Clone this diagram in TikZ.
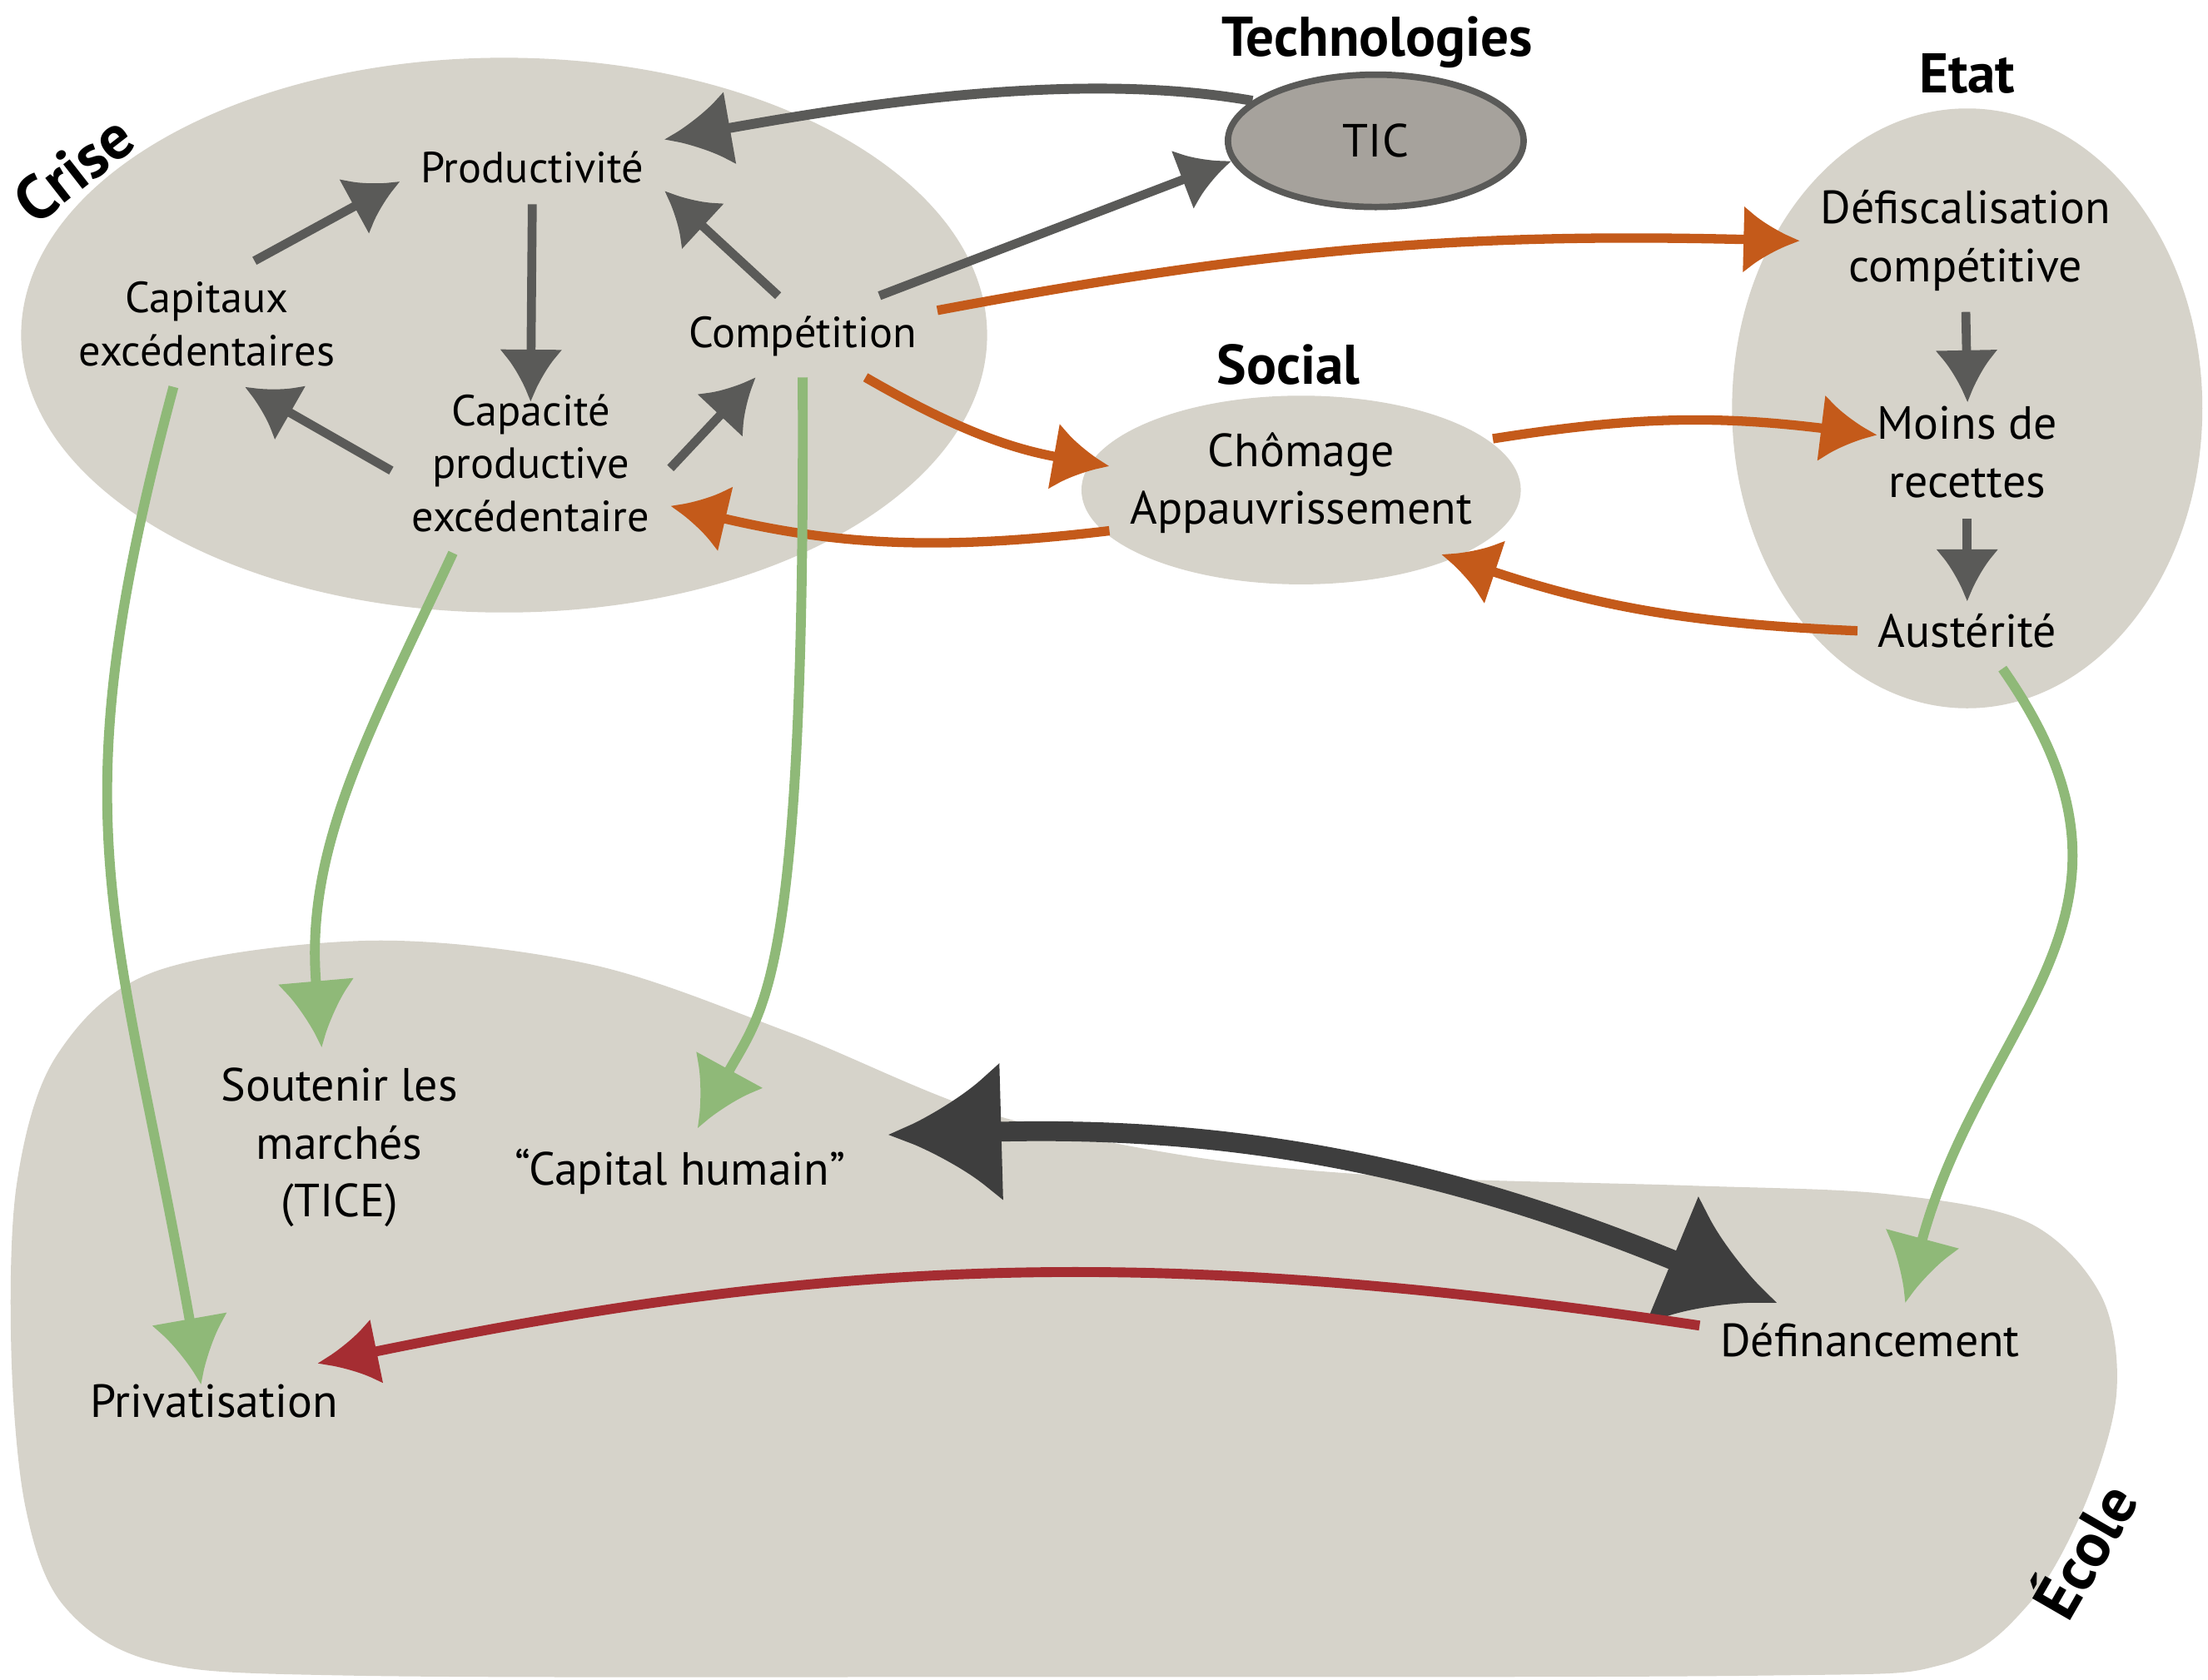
\documentclass[tikz,border=0pt]{standalone}
\usepackage{fontspec}
\setmainfont{PT Sans}
\usetikzlibrary{arrows.meta,shapes.geometric}

\definecolor{zone}{RGB}{214,211,202}
\definecolor{ticfill}{RGB}{166,162,156}
\definecolor{chalkgray}{RGB}{90,90,88}
\definecolor{chalkorange}{RGB}{196,90,26}
\definecolor{chalkgreen}{RGB}{143,185,120}
\definecolor{chalkdark}{RGB}{62,62,62}
\definecolor{chalkred}{RGB}{165,45,50}

\tikzset{
  lbl/.style={align=center,inner sep=4pt,font=\fontsize{8.8}{10.7}\selectfont},
  lblbig/.style={align=center,inner sep=4pt,font=\fontsize{9.4}{11.7}\selectfont},
  zonetitle/.style={font=\bfseries\fontsize{11.3}{13}\selectfont},
  grayarr/.style={line width=1.8pt,chalkgray,-{Latex[length=3.7mm,width=4.5mm]}},
  orangearr/.style={line width=1.9pt,chalkorange,-{Latex[length=4mm,width=4.8mm]}},
  greenarr/.style={line width=2pt,chalkgreen,-{Latex[length=4.7mm,width=5.5mm]}},
  darkarr/.style={line width=4pt,chalkdark,{Latex[length=8mm,width=10mm]}-{Latex[length=8mm,width=10mm]}},
  redarr/.style={line width=2pt,chalkred,-{Latex[length=4.3mm,width=4.7mm]}}
}

\begin{document}
\begin{tikzpicture}[x=0.1mm,y=0.1mm]
  \useasboundingbox (0,0) rectangle (1568,-1193);

  % zones
  \fill[zone] plot[smooth cycle,tension=0.55] coordinates {
    (264,-668) (420,-685) (560,-733) (700,-790) (850,-822) (1000,-836)
    (1200,-842) (1340,-848) (1440,-868) (1492,-920) (1503,-990) (1480,-1070)
    (1440,-1140) (1380,-1182) (1250,-1190) (700,-1191) (250,-1190) (110,-1180)
    (45,-1140) (18,-1070) (8,-960) (12,-840) (40,-750) (110,-690)};
  \fill[zone] (358,-238) ellipse [x radius=343,y radius=197];
  \fill[zone] (1397,-290) ellipse [x radius=167,y radius=213];
  \fill[zone] (924,-348) ellipse [x radius=156,y radius=67];

  % titles
  \node[zonetitle] (techT) at (978,-30) {Technologies};
  \node[zonetitle] (etatT) at (1397,-52) {Etat};
  \node[zonetitle] (socT) at (915,-259) {Social};
  \node[zonetitle,font=\bfseries\fontsize{12.6}{14}\selectfont,rotate=38] (criseT) at (52,-120) {Crise};
  \node[zonetitle,font=\bfseries\fontsize{12.6}{14}\selectfont,rotate=60] (ecoleT) at (1478,-1100) {École};

  % crise
  \node[lbl] (prod) at (378,-119) {Productivité};
  \node[lbl] (capit) at (147,-230) {Capitaux\\excédentaires};
  \node[lbl] (comp) at (570,-239) {Compétition};
  \node[lbl] (capa) at (377,-329) {Capacité\\productive\\excédentaire};

  % technologies, social, etat
  \node[lblbig,ellipse,fill=ticfill,draw=chalkgray,line width=1.3pt,
        minimum width=21mm,minimum height=9.4mm] (tic) at (977,-100) {TIC};
  \node[lblbig] (chom) at (924,-343) {Chômage\\Appauvrissement};
  \node[lblbig] (defisc) at (1396,-171) {Défiscalisation\\compétitive};
  \node[lblbig] (moins) at (1397,-321) {Moins de\\recettes};
  \node[lblbig] (aust) at (1397,-448) {Austérité};

  % ecole
  \node[lblbig] (sout) at (241,-815) {Soutenir les\\marchés\\(TICE)};
  \node[lblbig] (capH) at (483,-832) {“Capital humain”};
  \node[lblbig] (defin) at (1328,-952) {Définancement};
  \node[lblbig] (priv) at (152,-995) {Privatisation};

  % gray arrows
  \draw[grayarr] (capit.53) -- (prod.186);
  \draw[grayarr,shorten >=-2mm] (prod.south) -- (capa.north);
  \draw[grayarr] (capa.183) -- (capit.-59);
  \draw[grayarr] (capa.-2) -- (comp.221);
  \draw[grayarr] (comp.121) -- (prod.-10);
  \draw[grayarr,line width=2pt,-{Latex[length=4.7mm,width=5.3mm]}] (tic.162) to[out=170,in=10,looseness=0.8] (prod.12);
  \draw[grayarr] (comp.28) -- (tic.188);
  \draw[grayarr,shorten >=-1.2mm] (defisc.south) -- (moins.north);
  \draw[grayarr,shorten >=-0.6mm] (moins.south) -- (aust.north);

  % orange arrows
  \draw[orangearr] (comp.11) to[bend left=6] (defisc.180);
  \draw[orangearr] (comp.-33) to[bend right=10] (chom.175);
  \draw[orangearr] (chom.194) to[bend left=10] (capa.-17);
  \draw[orangearr,shorten >=-1.5mm] (chom.13) to[bend left=8] (moins.170);
  \draw[orangearr] (aust.180) to[bend left=8] (chom.-27);

  % green arrows
  \draw[greenarr,shorten >=-1.5mm] (capit.-118) to[out=255,in=100,looseness=1.2] (priv.114);
  \draw[greenarr] (capa.-131) to[out=245,in=95] (sout.100);
  \draw[greenarr] (comp.south) .. controls +(2,-431) and +(47,86) .. (capH.68);
  \draw[greenarr] (aust.-47) to[out=-55,in=75,looseness=1.2] (defin.47);

  % ecole arrows
  \draw[darkarr,shorten <=1.6mm] (capH.11) to[bend left=12] (defin.158);
  \draw[redarr] (defin.175) to[bend right=10] (priv.20);
\end{tikzpicture}
\end{document}
